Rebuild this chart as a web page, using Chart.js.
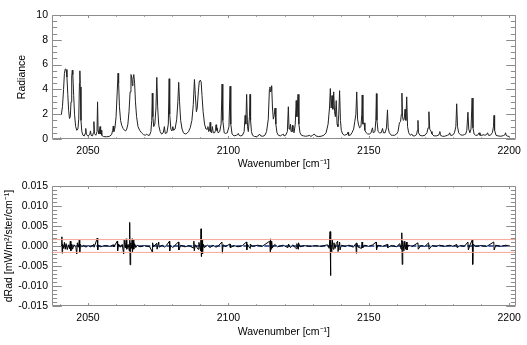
<!DOCTYPE html>
<html><head><meta charset="utf-8">
<script src="https://cdn.jsdelivr.net/npm/chart.js@4"></script>
<style>
html,body{margin:0;padding:0;background:#fff;}
#wrap{position:relative;width:527px;height:345px;background:#fff;}
#c1{position:absolute;left:0;top:0;}
#c2{position:absolute;left:0;top:172px;}
</style></head><body>
<div id="wrap"><canvas id="c1" width="527" height="172"></canvas><canvas id="c2" width="527" height="173"></canvas></div>
<script>
// ---------- data ----------
const xRange = [2037.0, 2202.5];
const xTicks = [2050, 2100, 2150, 2200];
const radianceTicks = [0, 2, 4, 6, 8, 10];
const dRadTicks = [-0.015, -0.010, -0.005, 0.000, 0.005, 0.010, 0.015];
const dRadLimits = [0.0016, -0.0016];
const dRadZeroRange = [2040.5, 2200.2];

// [wavenumber, radiance]
const radianceSpectrum = [
[2040.5,1.95],[2040.9,2.6],[2041.3,4.0],[2041.6,5.3],[2041.9,5.65],[2042.2,5.6],[2042.5,5.0],[2042.8,3.6],[2043.1,2.3],[2043.4,1.65],
[2043.7,1.8],[2043.95,3.0],[2044.2,5.0],[2044.4,5.55],[2044.6,5.2],[2044.9,3.5],[2045.2,2.0],[2045.6,1.0],[2046.0,0.7],[2046.4,0.8],
[2046.7,1.6],[2046.95,4.5],[2047.1,5.5],[2047.25,4.2],[2047.5,1.5],[2047.8,0.6],[2048.2,0.3],[2048.7,0.25],[2049.0,0.45],[2049.2,0.85],
[2049.4,0.4],[2049.9,0.25],[2050.3,0.3],[2050.6,0.35],[2050.9,0.65],[2051.1,0.3],[2051.6,0.25],[2051.9,0.5],[2052.1,1.4],[2052.3,0.45],
[2052.8,0.3],[2053.2,0.6],[2053.4,3.0],[2053.6,0.7],[2053.9,0.4],[2054.3,1.0],[2054.5,0.4],[2054.7,0.7],[2054.9,0.3],[2055.5,0.2],
[2056.5,0.18],[2057.5,0.2],[2058.4,0.35],[2058.8,0.7],[2059.0,1.05],[2059.2,0.6],[2059.6,0.9],[2060.0,1.8],[2060.4,3.8],[2060.7,5.3],
[2060.9,4.5],[2061.2,2.6],[2061.6,1.5],[2062.0,1.1],[2062.5,0.85],[2063.0,0.7],[2063.4,0.65],[2063.8,0.8],[2064.2,1.2],[2064.6,2.2],
[2065.0,3.8],[2065.3,5.2],[2065.5,5.1],[2065.8,4.3],[2066.0,4.8],[2066.3,5.2],[2066.6,4.5],[2066.9,3.0],[2067.3,1.8],[2067.8,1.0],
[2068.4,0.7],[2068.9,0.55],[2069.3,0.45],[2069.8,0.35],[2070.4,0.3],[2070.9,0.4],[2071.3,0.3],[2071.9,0.3],[2072.4,0.6],[2072.7,1.5],
[2072.9,3.7],[2073.1,1.8],[2073.4,1.0],[2073.8,1.2],[2074.2,2.5],[2074.5,4.97],[2074.8,2.6],[2075.2,1.1],[2075.7,0.6],[2076.2,0.4],
[2076.8,0.5],[2077.2,1.0],[2077.5,0.45],[2078.1,0.5],[2078.6,1.2],[2078.9,4.86],[2079.1,2.0],[2079.5,0.8],[2079.9,0.65],[2080.2,1.0],
[2080.5,0.7],[2081.0,0.8],[2081.6,1.6],[2082.0,3.0],[2082.3,4.57],[2082.6,3.0],[2083.0,1.5],[2083.5,0.8],[2084.0,0.5],[2084.6,0.4],
[2085.2,0.45],[2085.8,0.6],[2086.4,0.9],[2087.0,1.5],[2087.5,2.8],[2087.9,4.8],[2088.2,3.6],[2088.6,2.2],[2088.9,2.5],[2089.3,3.8],
[2089.6,4.6],[2090.0,4.75],[2090.3,4.6],[2090.6,3.5],[2091.0,2.2],[2091.5,1.2],[2092.0,0.8],[2092.5,0.8],[2092.7,1.0],[2093.0,0.6],
[2093.3,0.7],[2093.5,1.34],[2093.7,0.6],[2094.0,0.5],[2094.3,1.0],[2094.6,0.5],[2095.1,0.5],[2095.4,0.7],[2095.6,1.15],[2095.8,0.7],
[2096.0,0.9],[2096.3,0.5],[2096.9,0.6],[2097.4,1.2],[2097.75,4.43],[2098.0,1.5],[2098.5,0.5],[2099.0,0.45],[2099.6,0.5],[2100.2,1.0],
[2100.6,4.26],[2100.85,1.2],[2101.3,0.4],[2102.0,0.25],[2102.8,0.3],[2103.3,0.35],[2103.5,0.45],[2103.8,0.3],[2104.4,0.25],[2105.0,0.3],
[2105.6,0.6],[2105.95,1.9],[2106.2,1.2],[2106.5,3.6],[2106.8,1.0],[2107.1,0.6],[2107.5,1.8],[2107.7,3.6],[2107.9,1.5],[2108.2,0.6],
[2108.6,0.3],[2109.3,0.2],[2110.0,0.2],[2110.6,0.25],[2111.1,0.4],[2111.5,0.25],[2112.3,0.22],[2113.0,0.3],[2113.6,0.6],[2114.2,1.6],
[2114.6,4.0],[2114.8,4.2],[2115.0,3.8],[2115.2,3.9],[2115.4,4.3],[2115.7,2.5],[2116.0,1.6],[2116.3,1.9],[2116.6,2.5],[2116.9,1.2],
[2117.3,0.5],[2117.8,0.3],[2118.5,0.25],[2119.2,0.35],[2119.5,0.4],[2119.8,0.25],[2120.4,0.3],[2121.0,0.6],[2121.35,2.6],[2121.6,0.8],
[2121.9,0.9],[2122.1,1.2],[2122.3,0.6],[2122.6,0.7],[2122.8,1.1],[2123.0,0.6],[2123.4,0.5],[2123.8,1.2],[2124.15,3.1],[2124.4,1.8],
[2124.8,3.6],[2125.1,1.2],[2125.5,0.5],[2126.0,0.3],[2126.8,0.25],[2127.5,0.22],[2128.3,0.25],[2129.0,0.3],[2129.3,0.2],[2130.0,0.3],
[2130.6,0.4],[2131.1,0.25],[2132.0,0.2],[2133.0,0.22],[2134.0,0.3],[2134.8,0.5],[2135.5,1.2],[2136.0,2.5],[2136.3,4.07],[2136.6,2.5],
[2136.9,3.5],[2137.2,2.4],[2137.5,3.8],[2137.8,2.2],[2138.1,1.8],[2138.4,3.1],[2138.7,1.2],[2139.0,1.0],[2139.3,2.0],[2139.6,3.9],
[2139.9,1.5],[2140.2,0.7],[2140.7,0.4],[2141.3,0.3],[2141.9,0.35],[2142.4,0.4],[2142.6,0.55],[2142.8,0.3],[2143.4,0.3],[2144.0,0.5],
[2144.6,0.8],[2145.0,1.4],[2145.4,2.0],[2145.7,3.8],[2146.0,1.6],[2146.3,1.2],[2146.7,0.9],[2147.2,1.0],[2147.5,2.0],[2147.65,3.55],
[2147.9,1.2],[2148.3,1.3],[2148.6,0.7],[2149.1,0.5],[2149.6,0.4],[2150.2,0.4],[2150.8,0.5],[2151.3,0.9],[2151.6,0.5],[2152.2,0.6],
[2152.5,1.5],[2152.7,3.66],[2152.9,1.5],[2153.3,0.6],[2153.8,0.5],[2154.4,0.5],[2154.9,0.85],[2155.2,0.5],[2155.8,0.5],[2156.3,0.9],
[2156.65,2.35],[2156.9,0.9],[2157.3,0.5],[2157.7,0.4],[2158.0,0.3],[2158.5,0.3],[2159.2,0.3],[2159.9,0.4],[2160.4,0.6],[2160.9,1.3],
[2161.3,1.4],[2161.6,2.0],[2161.8,3.7],[2162.0,1.8],[2162.3,1.5],[2162.6,1.6],[2162.9,2.4],[2163.2,1.5],[2163.5,3.4],[2163.8,1.0],
[2164.2,0.5],[2164.8,0.3],[2165.3,0.4],[2165.7,0.25],[2166.3,0.25],[2167.0,0.35],[2167.3,0.7],[2167.5,1.5],[2167.7,0.5],[2168.2,0.3],
[2169.0,0.25],[2170.0,0.3],[2170.7,0.5],[2171.1,0.9],[2171.4,2.2],[2171.7,0.8],[2172.2,0.6],[2172.5,0.4],[2173.2,0.25],[2174.0,0.25],
[2174.8,0.3],[2175.1,0.45],[2175.3,0.6],[2175.5,0.3],[2176.2,0.22],[2177.0,0.22],[2178.0,0.3],[2178.5,0.35],[2178.8,0.5],[2179.1,0.3],
[2179.8,0.3],[2180.5,0.5],[2181.0,1.0],[2181.3,2.84],[2181.6,1.0],[2182.0,0.5],[2182.6,0.35],[2183.3,0.3],[2184.0,0.35],[2184.5,0.4],
[2184.9,0.7],[2185.3,2.16],[2185.6,0.8],[2186.0,0.5],[2186.4,0.8],[2186.8,3.3],[2187.1,0.9],[2187.5,0.4],[2188.0,0.3],[2188.7,0.3],
[2189.3,0.5],[2189.6,0.3],[2190.3,0.3],[2191.0,0.35],[2191.3,0.3],[2191.9,0.35],[2192.3,0.5],[2192.6,0.3],[2193.3,0.3],[2194.0,0.5],
[2194.4,1.0],[2194.6,1.9],[2194.8,0.7],[2195.3,0.3],[2196.0,0.25],[2197.0,0.22],[2198.0,0.28],[2198.5,0.35],[2198.7,0.5],[2198.9,0.3],
[2199.5,0.22],[2200.2,0.2]
];

// [wavenumber, dRad]
const dRadSpectrum = [
[2040.5,0],[2040.7,0.0023],[2040.8,-0.0018],[2040.95,0.0004],[2041.3,-0.0006],[2041.6,0.0009],[2041.9,-0.0008],[2042.2,0.0006],[2042.6,-0.0009],[2043.0,0.0003],
[2043.4,-0.0007],[2043.7,0.0012],[2043.9,-0.0012],[2044.2,0.0005],[2044.5,-0.0008],[2045.0,0.0003],[2045.7,-0.0004],[2046.0,-0.002],[2046.2,0.0008],[2046.6,-0.0003],
[2046.9,0.0015],[2047.05,-0.0015],[2047.3,0.0004],[2047.8,-0.0002],[2048.5,0.0002],[2049.2,-0.0003],[2050,0.0001],[2051,-0.0002],[2052.1,0.0004],[2052.2,-0.0003],
[2053.3,0.002],[2053.45,-0.001],[2053.7,0.0002],[2054.5,-0.0002],[2056,0.0001],[2058,-0.0001],[2059.0,0.0003],[2059.2,-0.0002],[2060.4,0.0012],[2060.55,-0.0012],
[2060.9,0.0005],[2061.5,-0.0003],[2062.2,0.0004],[2062.7,-0.002],[2062.9,0.0015],[2063.3,-0.0005],[2063.6,0.0018],[2063.8,-0.0008],[2064.3,0.0004],[2064.7,-0.0012],
[2064.85,0.0059],[2065.0,-0.0047],[2065.2,0.0008],[2065.5,-0.0006],[2065.7,0.0018],[2065.85,-0.0015],[2066.1,0.0015],[2066.3,-0.0008],[2066.6,0.0006],[2067.0,-0.0004],
[2067.5,0.0002],[2068.5,-0.0002],[2070,0.0001],[2072.0,-0.0002],[2072.9,-0.0015],[2073.0,0.0008],[2073.3,-0.0002],[2074.5,0.0007],[2074.6,-0.0008],[2075.2,0.001],
[2075.3,-0.0003],[2076.5,0.0002],[2077.2,-0.0003],[2078.0,0.0002],[2079.0,0.0012],[2079.1,-0.0012],[2079.4,0.0002],[2080.2,-0.0004],[2081.0,0.0002],[2082.2,0.001],
[2082.35,-0.001],[2083,0.0002],[2084.5,-0.0002],[2086,0.0001],[2087.5,-0.0005],[2087.7,0.0012],[2087.85,-0.0012],[2088.2,0.0003],[2089.2,-0.0008],[2089.5,0.0009],
[2090.1,-0.0012],[2090.25,0.0043],[2090.4,-0.0026],[2090.6,0.0015],[2090.8,-0.002],[2091.0,0.0005],[2091.4,-0.0004],[2092.5,0.0002],[2093.5,-0.0004],[2094.5,0.0002],
[2095.6,-0.0003],[2096.5,0.0001],[2097.7,0.001],[2097.85,-0.0018],[2098.1,0.0003],[2099.0,-0.0001],[2100.6,0.0005],[2100.7,-0.0004],[2102,0.0001],[2103.5,-0.0002],
[2105.0,0.0001],[2106.4,0.001],[2106.55,-0.001],[2106.8,0.0004],[2107.7,-0.0006],[2107.8,0.0005],[2108.5,-0.0001],[2110.5,0.0002],[2112,-0.0001],[2114.7,0.0012],
[2114.9,-0.0015],[2115.0,0.0018],[2115.2,-0.0008],[2115.4,0.0012],[2115.6,-0.0005],[2116.5,0.0004],[2117.5,-0.0002],[2119.5,0.0002],[2121.2,-0.0004],[2121.4,0.0005],
[2122.1,-0.0004],[2122.9,0.0003],[2124.2,-0.0007],[2124.4,0.0006],[2124.8,-0.0008],[2124.95,0.0008],[2125.5,-0.0002],[2127,0.0001],[2129,-0.0001],[2131,0.0001],
[2133,-0.0001],[2135.3,0.0003],[2135.9,-0.0006],[2136.2,0.0036],[2136.35,-0.0074],[2136.5,0.0012],[2136.8,-0.0015],[2137.0,0.0015],[2137.3,-0.0008],[2137.6,0.0008],
[2138.0,-0.0006],[2138.4,0.0006],[2138.9,0.0012],[2139.05,-0.0014],[2139.4,0.0004],[2139.6,0.001],[2139.75,-0.001],[2140.2,0.0002],[2141.5,-0.0001],[2143,0.0002],
[2144.5,-0.0003],[2145.4,0.0006],[2145.55,-0.0018],[2145.7,0.0008],[2146.2,-0.0003],[2147.4,-0.0006],[2147.6,0.001],[2147.8,-0.0005],[2148.5,0.0002],[2150,-0.0001],
[2151.4,0.0003],[2152.6,0.001],[2152.75,-0.001],[2153.2,0.0002],[2155,-0.0001],[2156.6,0.0004],[2156.75,-0.0004],[2158,0.0001],[2160.0,-0.0002],[2161.0,0.0006],
[2161.5,-0.0008],[2161.75,0.0033],[2161.9,-0.0046],[2162.1,0.0012],[2162.5,-0.0012],[2162.8,0.0012],[2163.1,-0.0008],[2163.4,0.001],[2163.6,-0.001],[2164.0,0.0002],
[2165.5,-0.0001],[2167.5,0.0008],[2167.6,-0.0008],[2168.5,0.0001],[2170,-0.0001],[2171.3,0.0008],[2171.45,-0.0008],[2172.5,0.0001],[2174,-0.0001],[2175.3,0.0002],
[2177,-0.0001],[2178.8,0.0002],[2180,-0.0001],[2181.3,0.0004],[2181.45,-0.0004],[2182.5,0.0001],[2184,-0.0001],[2185.3,0.001],[2185.45,-0.001],[2186.0,0.0002],
[2186.85,0.0015],[2187.0,-0.0046],[2187.2,0.0005],[2188,-0.0001],[2190,0.0001],[2192,-0.0001],[2194.5,0.001],[2194.65,-0.001],[2195.2,0.0002],[2197,-0.0001],
[2198.7,0.0002],[2200.2,0]
];

// ---------- rendering ----------
const FONT = {family: '"Liberation Sans", Arial, Helvetica, sans-serif', size: 10.5};
const FRAME = '#8c8c8c';

const frameTicks = {
  id: 'frameTicks',
  afterDatasetsDraw(chart, args, o) {
    const {ctx, chartArea: a, scales: {x, y}} = chart;
    ctx.save();
    ctx.strokeStyle = FRAME; ctx.lineWidth = 1;
    const L = Math.round(a.left) + 0.5, R = Math.round(a.right) - 0.5;
    const T = Math.round(a.top) + 0.5, B = Math.round(a.bottom) - 0.5;
    ctx.beginPath();
    ctx.rect(L, T, R - L, B - T);
    const xl = 0.02 * a.height, yl = 0.02 * a.width;
    const i0 = Math.ceil(x.min / o.xMinor - 1e-9), i1 = Math.floor(x.max / o.xMinor + 1e-9);
    for (let i = i0; i <= i1; i++) {
      const v = i * o.xMinor;
      const px = Math.round(x.getPixelForValue(v)) + 0.5;
      const major = (i % o.xPer) === 0;
      const len = major ? xl : xl / 2;
      ctx.moveTo(px, B); ctx.lineTo(px, B - len);
      ctx.moveTo(px, T); ctx.lineTo(px, T + len);
    }
    const j0 = Math.ceil(y.min / o.yMinor - 1e-9), j1 = Math.floor(y.max / o.yMinor + 1e-9);
    for (let j = j0; j <= j1; j++) {
      const v = j * o.yMinor;
      const py = Math.round(y.getPixelForValue(v)) + 0.5;
      const major = (((j % o.yPer) + o.yPer) % o.yPer) === 0;
      const len = major ? yl : yl / 2;
      ctx.moveTo(L, py); ctx.lineTo(L + len, py);
      ctx.moveTo(R, py); ctx.lineTo(R - len, py);
    }
    ctx.stroke();
    ctx.restore();
  }
};

function pts(arr) { return arr.map(p => ({x: p[0], y: p[1]})); }

function xScale(titlePadBottom, axisHeight) {
  return {
    type: 'linear', min: xRange[0], max: xRange[1],
    afterBuildTicks: s => { s.ticks = xTicks.map(v => ({value: v})); },
    afterFit: s => { s.height = axisHeight; },
    grid: {display: false, drawTicks: false}, border: {display: false},
    ticks: {color: '#000', font: FONT, padding: 6, maxRotation: 0, autoSkip: false,
            callback: v => String(v)},
    title: {display: true, text: 'Wavenumber [cm\u207B\u00B9]', color: '#000', font: FONT,
            padding: {top: 0, bottom: titlePadBottom}}
  };
}

Chart.defaults.font.family = FONT.family;

new Chart(document.getElementById('c1'), {
  type: 'line',
  data: {datasets: [{
    data: pts(radianceSpectrum), borderColor: '#222', borderWidth: 1,
    pointRadius: 0, tension: 0, fill: false
  }]},
  options: {
    responsive: false, animation: false, devicePixelRatio: 1,
    layout: {padding: {left: 0, right: 8, top: 15, bottom: 0}},
    plugins: {legend: {display: false}, tooltip: {enabled: false},
              frameTicks: {xMinor: 10, xPer: 5, yMinor: 0.5, yPer: 4}},
    scales: {
      x: xScale(1.7, 33),
      y: {
        type: 'linear', min: 0, max: 10,
        afterBuildTicks: s => { s.ticks = radianceTicks.map(v => ({value: v})); },
        afterFit: s => { s.width = 51.5; },
        grid: {display: false, drawTicks: false}, border: {display: false},
        ticks: {color: '#000', font: FONT, padding: 3.5, callback: v => String(v)},
        title: {display: true, text: 'Radiance', color: '#000', font: FONT, padding: {top: 16, bottom: 0}}
      }
    }
  },
  plugins: [frameTicks]
});

new Chart(document.getElementById('c2'), {
  type: 'line',
  data: {datasets: [
    {data: xRange.map(v => ({x: v, y: dRadLimits[0]})), borderColor: '#f4a595', borderWidth: 1, pointRadius: 0, fill: false},
    {data: xRange.map(v => ({x: v, y: dRadLimits[1]})), borderColor: '#f4a595', borderWidth: 1, pointRadius: 0, fill: false},
    {data: pts(dRadSpectrum), borderColor: '#000', borderWidth: 1, pointRadius: 0, tension: 0, fill: false},
    {data: dRadZeroRange.map(v => ({x: v, y: 0})), borderColor: '#4a68b0', borderWidth: 2,
     borderDash: [5, 2], pointRadius: 0, fill: false}
  ]},
  options: {
    responsive: false, animation: false, devicePixelRatio: 1,
    layout: {padding: {left: 0, right: 8, top: 14, bottom: 0}},
    plugins: {legend: {display: false}, tooltip: {enabled: false},
              frameTicks: {xMinor: 10, xPer: 5, yMinor: 0.001, yPer: 5}},
    scales: {
      x: xScale(6.7, 39),
      y: {
        type: 'linear', min: -0.015, max: 0.015,
        afterBuildTicks: s => { s.ticks = dRadTicks.map(v => ({value: v})); },
        afterFit: s => { s.width = 51.5; },
        grid: {display: false, drawTicks: false}, border: {display: false},
        ticks: {color: '#000', font: FONT, padding: 3.5, callback: v => Number(v).toFixed(3)},
        title: {display: true, text: 'dRad [mW/m\u00B2/ster/cm\u207B\u00B9]', color: '#000', font: FONT, padding: {top: 3, bottom: 0}}
      }
    }
  },
  plugins: [frameTicks]
});
</script>
</body></html>
